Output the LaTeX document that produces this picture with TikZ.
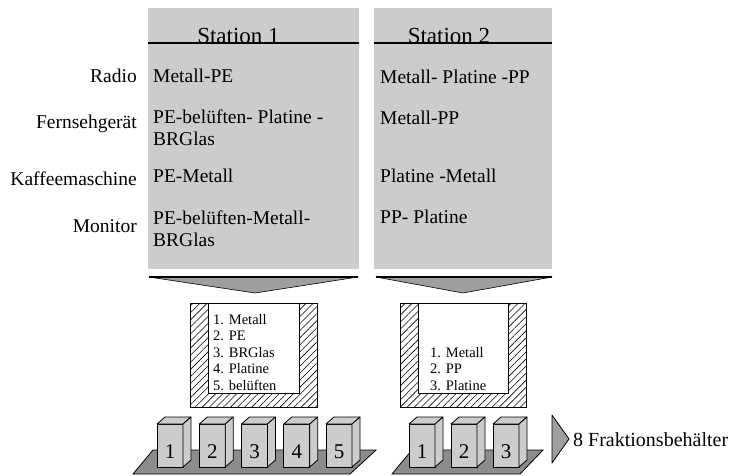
\documentclass[tikz,border=0pt]{standalone}
\usepackage{fontspec}
\setmainfont{Liberation Serif}
\usetikzlibrary{patterns.meta}

\definecolor{panelgray}{gray}{0.8}
\definecolor{chevrongray}{gray}{0.62}
\definecolor{floorgray}{gray}{0.55}

\def\hatchbin#1#2{\draw[hatchwall] (#1,303) rectangle (#2,407);
  \draw[fill=white] (#1+18,303) rectangle (#2-18,393)}
\def\drawbin#1#2#3{\draw[binface] (#1,424) rectangle ++(26,43);
  \draw[binface] (#1,424) -- ++(8,-7) -- ++(26,0) -- ++(-8,7) -- cycle;
  \draw[binface] (#1+26,424) -- ++(8,-7) -- ++(0,43) -- ++(-8,7) -- cycle;
  \node[binnum] (#2) at (#1+13,458) {#3}}

\begin{document}
\begin{tikzpicture}[x=1pt,y=-1pt,
    headtext/.style={inner sep=0pt,anchor=base,font=\fontsize{23}{26}\selectfont},
    rowtext/.style={inner sep=0pt,anchor=base west,align=left,font=\fontsize{19.5}{22}\selectfont},
    devtext/.style={inner sep=0pt,anchor=base east,font=\fontsize{19.5}{22}\selectfont},
    listtext/.style={inner sep=0pt,anchor=base west,align=left,font=\fontsize{14.5}{16.5}\selectfont},
    binface/.style={draw,fill=panelgray,line width=0.8pt,line join=round},
    binnum/.style={inner sep=0pt,anchor=base,font=\fontsize{21}{24}\selectfont},
    hatchwall/.style={draw,line width=0.8pt,pattern={Lines[angle=45,distance=5pt,line width=0.6pt]}},
    chevron/.style={fill=chevrongray,draw,line width=0.6pt,line join=round}]
  \useasboundingbox (0,0) rectangle (730,475);
  % station panels
  \fill[panelgray] (148,8) rectangle (359,269);
  \fill[panelgray] (374,8) rectangle (552,269);
  \draw[line width=1.1pt] (148,43) -- (359,43);
  \draw[line width=1.1pt] (374,43) -- (552,43);
  \node[headtext] (station1) at (238.5,43) {Station 1};
  \node[headtext] (station2) at (449,43) {Station 2};
  % devices
  \node[devtext] (radio) at (137,82) {Radio};
  \node[devtext] (tv) at (137,128) {Fernsehgerät};
  \node[devtext] (coffee) at (137,185) {Kaffeemaschine};
  \node[devtext] (monitor) at (137,232) {Monitor};
  % station 1 sequences (base = last line)
  \node[rowtext] (s1radio) at (153,82) {Metall-PE};
  \node[rowtext] (s1tv) at (153,145) {PE-belüften- Platine -\\BRGlas};
  \node[rowtext] (s1coffee) at (153,182) {PE-Metall};
  \node[rowtext] (s1monitor) at (153,246) {PE-belüften-Metall-\\BRGlas};
  % station 2 sequences
  \node[rowtext] (s2radio) at (380,83) {Metall- Platine -PP};
  \node[rowtext] (s2tv) at (380,124) {Metall-PP};
  \node[rowtext] (s2coffee) at (380,182) {Platine -Metall};
  \node[rowtext] (s2monitor) at (380,223) {PP- Platine};
  % chevrons
  \draw[chevron] (149,277) -- (358,277) -- (255,293) -- cycle;
  \draw[line width=1.6pt] (149,277) -- (358,277);
  \draw[chevron] (376,277) -- (552,277) -- (463,293) -- cycle;
  \draw[line width=1.6pt] (376,277) -- (552,277);
  % hatched containers
  \hatchbin{190}{317};
  \hatchbin{400}{526};
  \node[listtext] (list1) at (213,390) {1. Metall\\2. PE\\3. BRGlas\\4. Platine\\5. belüften};
  \node[listtext] (list2) at (430,390) {1. Metall\\2. PP\\3. Platine};
  % platforms and bins
  \draw[fill=floorgray,line width=0.8pt] (133,474) -- (153,450) -- (376,450) -- (350,474) -- cycle;
  \draw[fill=floorgray,line width=0.8pt] (392,474) -- (412,450) -- (543,450) -- (520,474) -- cycle;
  \foreach \i in {1,...,5} {
    \pgfmathsetmacro{\bx}{157+42.25*(\i-1)}
    \drawbin{\bx}{a\i}{\i};
  }
  \foreach \i in {1,...,3} {
    \pgfmathsetmacro{\bx}{409+42*(\i-1)}
    \drawbin{\bx}{b\i}{\i};
  }
  % output arrow
  \draw[fill=chevrongray,line width=0.8pt,line join=round] (552,415) -- (569,439) -- (552,463) -- cycle;
  \node[inner sep=0pt,anchor=base west,font=\fontsize{20}{23}\selectfont] (total) at (573,446) {8 Fraktionsbehälter};
\end{tikzpicture}
\end{document}
